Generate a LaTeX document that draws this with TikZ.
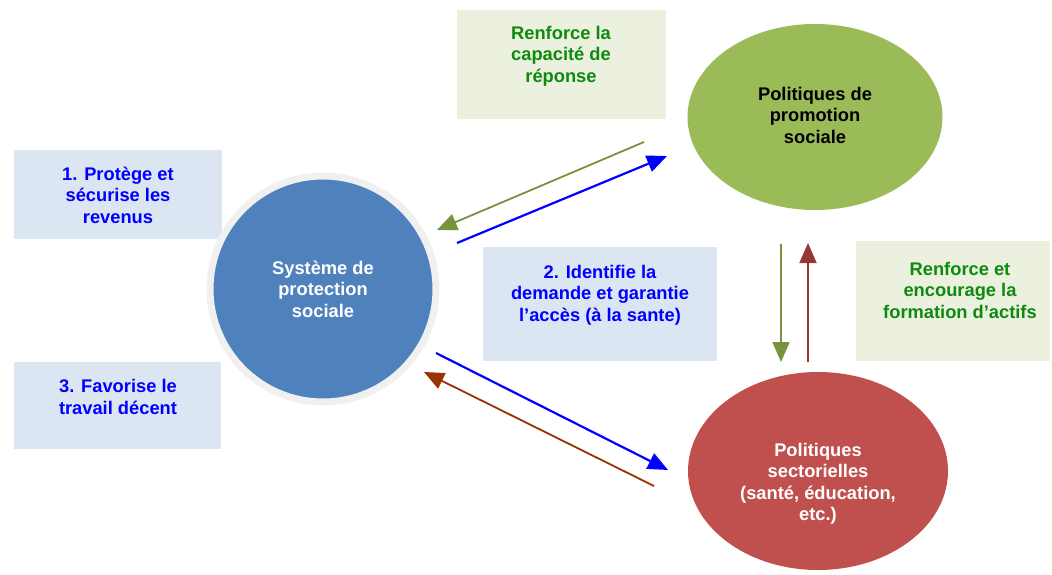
\documentclass[tikz,border=0pt]{standalone}
\usepackage{fontspec}
\setmainfont{Liberation Sans}
\usetikzlibrary{arrows.meta,shapes.geometric}

\definecolor{sysblue}{HTML}{4F81BD}
\definecolor{promgreen}{HTML}{9BBB59}
\definecolor{sectred}{HTML}{C0504D}
\definecolor{boxblue}{HTML}{DCE6F2}
\definecolor{boxgreen}{HTML}{EBF1DE}
\definecolor{txtgreen}{RGB}{14,138,14}
\definecolor{arrgreen}{HTML}{77933C}
\definecolor{arrbrown}{HTML}{993300}
\definecolor{arrred}{HTML}{953735}

\tikzset{
  every node/.append style={font=\fontsize{18.3}{21.5}\selectfont\bfseries, align=center},
  bluebox/.style={fill=boxblue, inner sep=0pt},
  greenbox/.style={fill=boxgreen, inner sep=0pt},
  bluetxt/.style={text=blue},
  greentxt/.style={text=txtgreen},
  conn/.style={-{Triangle[length=20pt,width=17pt]}, line width=2.2pt}
}

\begin{document}
\begin{tikzpicture}[x=1pt,y=-1pt]
  \useasboundingbox (0,0) rectangle (1052,575);

  % boites de texte
  \node[greenbox, minimum width=209, minimum height=109] (boxcap) at (561.5,64.5) {};
  \node[greentxt] (txtcap) at (561,56) {Renforce la\\capacité de\\réponse};
  \node[bluebox, minimum width=208, minimum height=89] (boxrev) at (118,194.5) {};
  \node[bluetxt] (txtrev) at (118,195) {1. Protège et\\sécurise les\\revenus};
  \node[bluebox, minimum width=234, minimum height=114] (boxacc) at (600,304) {};
  \node[bluetxt] (txtacc) at (600,295) {2. Identifie la\\demande et garantie\\l’accès (à la sante)};
  \node[greenbox, minimum width=194, minimum height=120] (boxact) at (953,301) {};
  \node[greentxt] (txtact) at (960,290) {Renforce et\\encourage la\\formation d’actifs};
  \node[bluebox, minimum width=207, minimum height=87] (boxtrav) at (117.5,405.5) {};
  \node[bluetxt] (txttrav) at (118,397) {3. Favorise le\\travail décent};

  % les trois politiques
  \node[circle, fill=sysblue, draw=black!6, line width=7pt, minimum size=226, text=white]
    (sps) at (323,289) {Système de\\protection\\sociale};
  \node[ellipse, fill=promgreen, minimum width=255, minimum height=186] (prom) at (815,117) {};
  \node (txtprom) at (815,115) {Politiques de\\promotion\\sociale};
  \node[ellipse, fill=sectred, minimum width=260, minimum height=198] (sect) at (818,471) {};
  \node[text=white] (txtsect) at (818,484) {Politiques\\sectorielles\\(santé, éducation,\\etc.)};

  % extremites des fleches
  \coordinate (g1) at (644,142);  \coordinate (g2) at (437,230);
  \coordinate (b1) at (457,243);  \coordinate (b2) at (667,156);
  \coordinate (b3) at (436,353);  \coordinate (b4) at (668,470);
  \coordinate (r1) at (654,486);  \coordinate (r2) at (424,372);
  \coordinate (v1) at (781,244);  \coordinate (v2) at (781,362);
  \coordinate (v3) at (808,362);  \coordinate (v4) at (808,243);

  \draw[conn, arrgreen, line width=1.8pt] (g1) -- (g2);
  \draw[conn, blue] (b1) -- (b2);
  \draw[conn, blue] (b3) -- (b4);
  \draw[conn, arrbrown, line width=1.8pt] (r1) -- (r2);
  \draw[conn, arrgreen, line width=1.8pt] (v1) -- (v2);
  \draw[conn, arrred, line width=1.8pt] (v3) -- (v4);
\end{tikzpicture}
\end{document}
